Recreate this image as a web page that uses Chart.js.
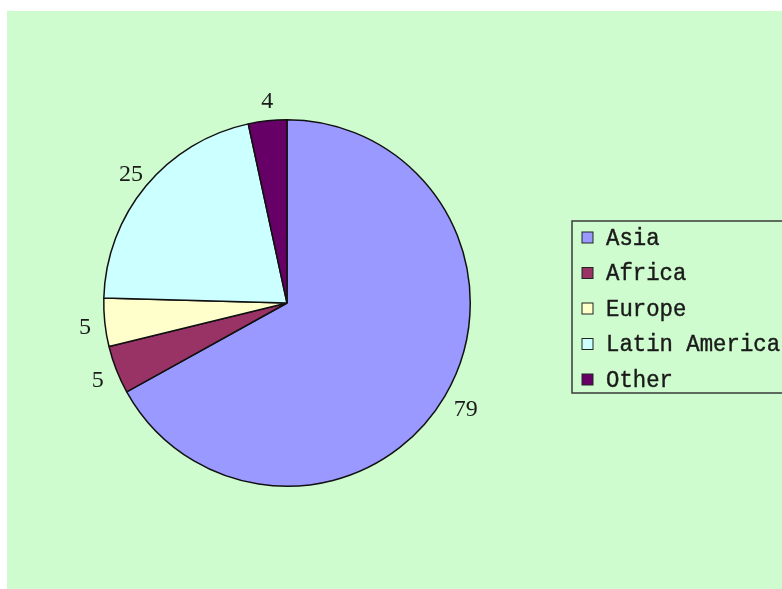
<!DOCTYPE html>
<html>
<head>
<meta charset="utf-8">
<script src="https://cdn.jsdelivr.net/npm/chart.js@4"></script>
<style>
  html, body { margin: 0; padding: 0; background: #ffffff; }
  canvas { display: block; }
</style>
</head>
<body>
<canvas id="pie" width="782" height="589"></canvas>
<script>
// data
const regions = ['Asia', 'Africa', 'Europe', 'Latin America', 'Other'];
const counts = [79, 5, 5, 25, 4];
const sliceColors = ['#9999ff', '#993366', '#ffffcc', '#ccffff', '#660066'];

// green plot background with white strip at top/left
const backdrop = {
    id: 'backdrop',
    beforeDraw(chart) {
        const ctx = chart.ctx;
        ctx.save();
        ctx.fillStyle = '#ffffff';
        ctx.fillRect(0, 0, chart.width, chart.height);
        ctx.fillStyle = '#cffccf';
        ctx.fillRect(7, 11, chart.width - 7, chart.height - 11);
        ctx.restore();
    }
};

// value labels just outside each slice
const outsideLabels = {
    id: 'outsideLabels',
    afterDatasetsDraw(chart) {
        const ctx = chart.ctx;
        const meta = chart.getDatasetMeta(0);
        ctx.save();
        ctx.font = '24px "Liberation Serif"';
        ctx.fillStyle = '#1a1a1a';
        ctx.textAlign = 'center';
        ctx.textBaseline = 'middle';
        meta.data.forEach((arc, i) => {
            const p = arc.getProps(['x', 'y', 'startAngle', 'endAngle', 'outerRadius'], true);
            const mid = (p.startAngle + p.endAngle) / 2;
            const r = p.outerRadius + 22;
            ctx.fillText(String(counts[i]), p.x + Math.cos(mid) * r + 2, p.y + Math.sin(mid) * r + 3);
        });
        ctx.restore();
    }
};

// boxed legend on the right, running off the edge like the original
const boxLegend = {
    id: 'boxLegend',
    afterDraw(chart) {
        const ctx = chart.ctx;
        const left = 572, top = 221, rowH = 35.5;
        ctx.save();
        ctx.strokeStyle = '#3a3a3a';
        ctx.lineWidth = 1.5;
        ctx.strokeRect(left, top, chart.width - left + 10, 172);
        ctx.font = '23px "Liberation Mono"';
        ctx.textBaseline = 'middle';
        regions.forEach((name, i) => {
            const cy = top + 17 + i * rowH;
            ctx.fillStyle = sliceColors[i];
            ctx.fillRect(582, cy - 6, 11, 11);
            ctx.strokeStyle = '#222';
            ctx.lineWidth = 1;
            ctx.strokeRect(582, cy - 6, 11, 11);
            ctx.fillStyle = '#1a1a1a';
            ctx.strokeStyle = '#1a1a1a';
            ctx.lineWidth = 0.4;
            ctx.save();
            ctx.translate(606, cy);
            ctx.scale(0.97, 1.08);
            ctx.fillText(name, 0, 0);
            ctx.strokeText(name, 0, 0);
            ctx.restore();
        });
        ctx.restore();
    }
};

new Chart(document.getElementById('pie'), {
    type: 'pie',
    data: {
        labels: regions,
        datasets: [{
            data: counts,
            backgroundColor: sliceColors,
            borderColor: '#111',
            borderWidth: 1.5
        }]
    },
    options: {
        responsive: false,
        animation: false,
        layout: { padding: { left: 103, right: 311, top: 119, bottom: 102 } },
        plugins: {
            legend: { display: false },
            tooltip: { enabled: false }
        }
    },
    plugins: [backdrop, outsideLabels, boxLegend]
});
</script>
</body>
</html>
